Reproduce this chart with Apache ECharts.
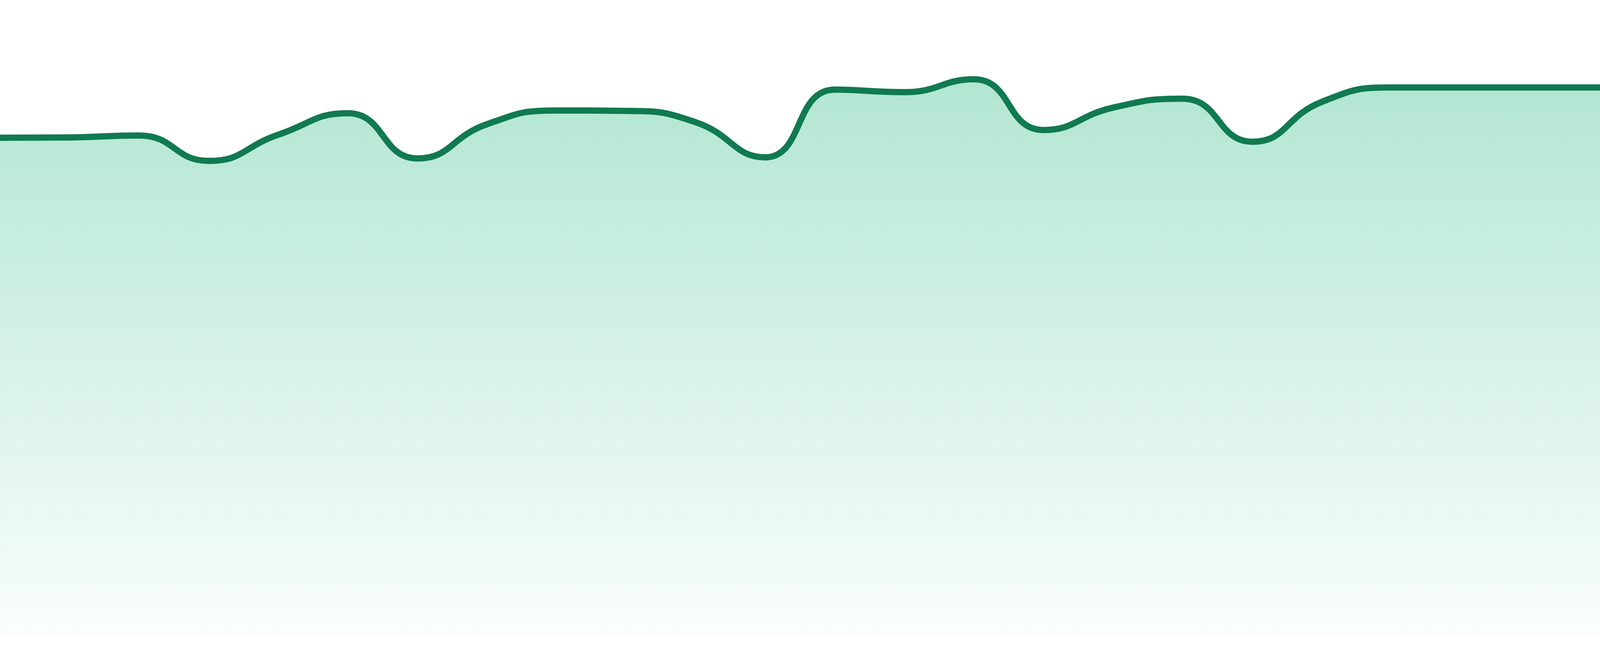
<!DOCTYPE html>
<html>
<head>
<meta charset="utf-8">
<script src="https://cdn.jsdelivr.net/npm/echarts@6/dist/echarts.min.js"></script>
<style>
html,body{margin:0;padding:0;background:#ffffff;overflow:hidden;width:100%;height:100%;}
#chart{width:100vw;height:100vh;}
</style>
</head>
<body>
<div id="chart"></div>
<script>
var categories = ['1','2','3','4','5','6','7','8','9','10','11','12','13','14','15','16','17','18','19','20','21','22','23','24'];
var values = [78.39, 78.43, 78.74, 74.75, 78.86, 82.23, 75.14, 80.51, 82.66, 82.60, 80.82, 75.31, 85.94, 85.54, 87.56, 79.60, 83.11, 84.52, 77.76, 84.01, 86.27, 86.27, 86.27, 86.27];

var chart = echarts.init(document.getElementById('chart'));
chart.setOption({
  backgroundColor: '#ffffff',
  animation: false,
  grid: {left: 0, right: 0, top: 0, bottom: '2.857%'},
  xAxis: {type: 'category', data: categories, boundaryGap: false, show: false},
  yAxis: {type: 'value', min: 0, max: 100, show: false},
  series: [{
    type: 'line',
    data: values,
    smooth: true,
    showSymbol: false,
    lineStyle: {color: '#107a50', width: 16},
    itemStyle: {color: '#107a50'},
    areaStyle: {
      opacity: 1,
      color: new echarts.graphic.LinearGradient(0, 0, 0, 1, [
        {offset: 0, color: 'rgba(34,184,124,0.35)'},
        {offset: 1, color: 'rgba(34,184,124,0.02)'}
      ])
    }
  }]
});
window.addEventListener('resize', function(){ chart.resize(); });
</script>
</body>
</html>
